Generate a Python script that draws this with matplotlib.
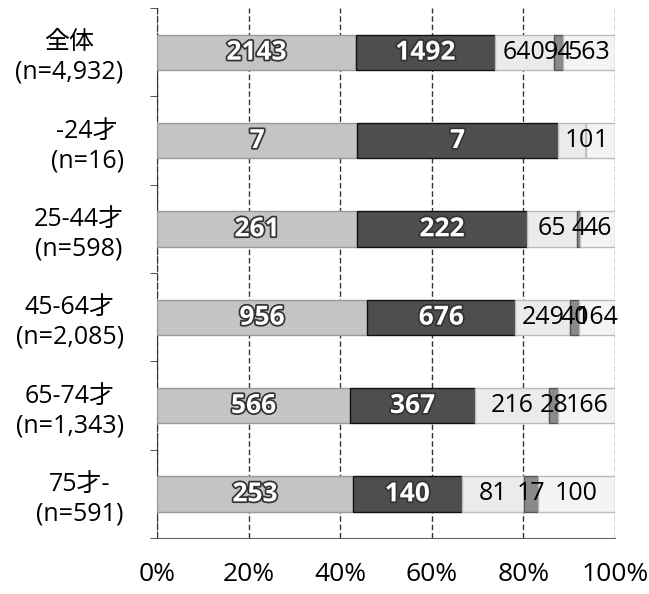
import matplotlib
matplotlib.use("Agg")
import matplotlib.pyplot as plt
import matplotlib.patheffects as pe
import numpy as np

categories = ["全体\n(n=4,932)", "-24才\n(n=16)", "25-44才\n(n=598)",
              "45-64才\n(n=2,085)", "65-74才\n(n=1,343)", "75才-\n(n=591)"]
s1 = [2143, 7, 261, 956, 566, 253]
s2 = [1492, 7, 222, 676, 367, 140]
s3 = [640, 1, 65, 249, 216, 81]
s4 = [94, 0, 4, 40, 28, 17]
s5 = [563, 1, 46, 164, 166, 100]
xticklabels = ["0%", "20%", "40%", "60%", "80%", "100%"]

series = [s1, s2, s3, s4, s5]
colors = ["#c4c4c4", "#4e4e4e", "#ebebeb", "#8a8a8a", "#f4f4f4"]
edges = ["#9a9a9a", "#111111", "#bbbbbb", "#555555", "#bbbbbb"]

plt.rcParams['font.family'] = ['Open Sans', 'Noto Sans CJK JP', 'DejaVu Sans']

fig = plt.figure(figsize=(6.49, 5.94), dpi=100)
ax = fig.add_axes([157/649, 56/594, (615-157)/649, (586-56)/594])

data = np.array(series, dtype=float)
totals = data.sum(axis=0)
pct = data / totals * 100
y = np.arange(len(categories))
left = np.zeros(len(categories))
for i in range(len(series)):
    ax.barh(y, pct[i], left=left, height=0.4, color=colors[i],
            edgecolor=edges[i], linewidth=1.0, zorder=3)
    for j in range(len(categories)):
        cx = left[j] + pct[i][j] / 2
        if i < 2:
            ax.text(cx, y[j], str(series[i][j]), ha='center', va='center',
                    fontsize=19, fontweight='bold', color='white', zorder=5,
                    path_effects=[pe.withStroke(linewidth=2.5, foreground='#333333')])
        else:
            ax.text(cx, y[j], str(series[i][j]), ha='center', va='center',
                    fontsize=18, color='black', zorder=5)
    left += pct[i]

ax.set_xlim(0, 100)
ax.set_ylim(len(categories) - 0.5, -0.5)
ax.set_xticks(np.arange(0, 101, 20))
ax.set_xticklabels(xticklabels, fontsize=19)
ax.set_yticks(y)
ax.set_yticklabels(categories, fontsize=18, linespacing=1.25)
for lbl in ax.get_yticklabels():
    lbl.set_multialignment('center')
ax.set_yticks(np.arange(-0.5, len(categories), 1), minor=True)
ax.tick_params(axis='y', which='major', length=0, pad=24)
ax.tick_params(axis='y', which='minor', length=5, color='#333333')
ax.tick_params(axis='x', length=0, pad=17)
ax.grid(axis='x', color='#333333', linestyle=(0, (4, 2)), linewidth=1.0, zorder=0)
for sp in ['top', 'right']:
    ax.spines[sp].set_visible(False)
ax.spines['left'].set_color('#333333')
ax.spines['bottom'].set_color('#666666')
ax.spines['left'].set_linestyle((0, (6, 2)))

fig.savefig("out.png", dpi=100, facecolor='white')
